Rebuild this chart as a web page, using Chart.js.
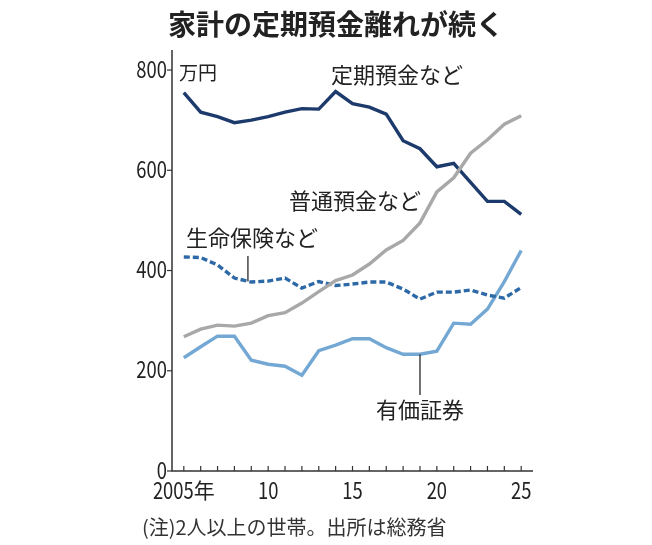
<!DOCTYPE html>
<html>
<head>
<meta charset="utf-8">
<script src="https://cdn.jsdelivr.net/npm/chart.js@4"></script>
<style>
  body { margin: 0; background: #fff; }
  #wrap { width: 652px; height: 545px; }
</style>
</head>
<body>
<div id="wrap"><canvas id="chart" width="652" height="545"></canvas></div>
<script>
// data (万円)
const years = [2005, 2006, 2007, 2008, 2009, 2010, 2011, 2012, 2013, 2014, 2015,
               2016, 2017, 2018, 2019, 2020, 2021, 2022, 2023, 2024, 2025];
const teikiYokin = [755, 716, 707, 695, 700, 707, 716, 723, 722, 757, 733,
                    726, 712, 659, 643, 607, 614, 576, 538, 538, 512];
const futsuYokin = [268, 283, 291, 289, 295, 310, 316, 335, 358, 380, 391,
                    413, 441, 460, 495, 557, 585, 634, 661, 692, 709];
const seimeiHoken = [427, 426, 411, 385, 377, 379, 385, 365, 378, 370, 373,
                     377, 377, 363, 343, 357, 357, 361, 351, 345, 366];
const yukaShoken = [226, 248, 269, 269, 221, 213, 209, 191, 240, 251, 264,
                    264, 246, 233, 233, 239, 295, 293, 323, 378, 440];
const yTicks = [0, 200, 400, 600, 800];
const xLabelYears = [2005, 2010, 2015, 2020, 2025];

const jpFont = '"Noto Sans CJK JP", sans-serif';
const textColor = '#222';

function pts(values) {
    return years.map((y, i) => ({ x: y, y: values[i] }));
}

// condensed digits, like the narrow numerals of the original
function narrowText(ctx, text, x, y, align) {
    const squeeze = 0.8;
    ctx.save();
    ctx.font = '23px ' + jpFont;
    const w = ctx.measureText(text).width * squeeze;
    let left = x;
    if (align === 'right') left = x - w;
    if (align === 'center') left = x - w / 2;
    ctx.translate(left, y);
    ctx.scale(squeeze, 1);
    ctx.textAlign = 'left';
    ctx.textBaseline = 'middle';
    ctx.fillText(text, 0, 0);
    ctx.restore();
    return w;
}

// axes, ticks and labels drawn on top
const decorations = {
    id: 'decorations',
    afterDraw(chart) {
        const ctx = chart.ctx;
        const xs = chart.scales.x;
        const ys = chart.scales.y;
        const area = chart.chartArea;
        ctx.save();

        // axis lines
        ctx.strokeStyle = '#333';
        ctx.lineWidth = 1.5;
        ctx.beginPath();
        ctx.moveTo(area.left, area.top);
        ctx.lineTo(area.left, area.bottom);
        ctx.lineTo(area.right, area.bottom);
        ctx.stroke();

        // y tick marks + labels
        ctx.lineWidth = 1.2;
        ctx.fillStyle = textColor;
        yTicks.forEach(v => {
            const py = ys.getPixelForValue(v);
            ctx.beginPath();
            ctx.moveTo(area.left - 5, py);
            ctx.lineTo(area.left, py);
            ctx.stroke();
            narrowText(ctx, String(v), area.left - 5, py - 1, 'right');
        });
        // x tick marks (every year, pointing up)
        years.forEach(y => {
            const px = xs.getPixelForValue(y);
            ctx.beginPath();
            ctx.moveTo(px, area.bottom);
            ctx.lineTo(px, area.bottom - 5);
            ctx.stroke();
        });
        // x labels
        const labelY = area.bottom + 19;
        xLabelYears.forEach(v => {
            const px = xs.getPixelForValue(v);
            if (v === 2005) {
                ctx.font = '21px ' + jpFont;
                const kw = ctx.measureText('年').width;
                ctx.save();
                ctx.font = '23px ' + jpFont;
                const dw = ctx.measureText('2005').width * 0.8;
                ctx.restore();
                const left = px - (dw + kw) / 2;
                narrowText(ctx, '2005', left, labelY, 'left');
                ctx.font = '21px ' + jpFont;
                ctx.textAlign = 'left';
                ctx.textBaseline = 'middle';
                ctx.fillText('年', left + dw, labelY);
            } else {
                narrowText(ctx, String(v % 100), px, labelY, 'center');
            }
        });

        // title
        ctx.fillStyle = textColor;
        ctx.textAlign = 'center';
        ctx.textBaseline = 'middle';
        ctx.font = 'bold 28px ' + jpFont;
        ctx.fillText('家計の定期預金離れが続く', 336, 24);

        // unit
        ctx.textAlign = 'left';
        ctx.font = '19px ' + jpFont;
        ctx.fillText('万円', area.left + 7, 73);

        // series labels
        ctx.font = '22px ' + jpFont;
        ctx.fillText('定期預金など', 331, 75);
        ctx.fillText('普通預金など', 289, 201);
        ctx.fillText('生命保険など', 186, 238);
        ctx.fillText('有価証券', 376, 410);

        // leader lines
        ctx.strokeStyle = '#444';
        ctx.lineWidth = 1.5;
        let lx = xs.getPixelForValue(2008.8);
        ctx.beginPath();
        ctx.moveTo(lx, 256);
        ctx.lineTo(lx, ys.getPixelForValue(378));
        ctx.stroke();
        lx = xs.getPixelForValue(2019);
        ctx.beginPath();
        ctx.moveTo(lx, ys.getPixelForValue(233));
        ctx.lineTo(lx, 395);
        ctx.stroke();

        // footnote
        ctx.fillStyle = '#333';
        ctx.font = '20px ' + jpFont;
        ctx.fillText('(注)2人以上の世帯。出所は総務省', 142, 527);

        ctx.restore();
    }
};

function lineSet(label, values, color, dash) {
    return {
        label: label,
        data: pts(values),
        borderColor: color,
        backgroundColor: color,
        borderWidth: 3.4,
        borderDash: dash || [],
        pointRadius: 0,
        tension: 0,
        borderJoinStyle: 'miter'
    };
}

new Chart(document.getElementById('chart'), {
    type: 'line',
    data: {
        datasets: [
            lineSet('普通預金など', futsuYokin, '#a8a8a8'),
            lineSet('生命保険など', seimeiHoken, '#2d69a7', [6, 3]),
            lineSet('有価証券', yukaShoken, '#74a8d4'),
            lineSet('定期預金など', teikiYokin, '#1c3a6b')
        ]
    },
    options: {
        responsive: false,
        animation: false,
        layout: { padding: { top: 50, right: 119, left: 0, bottom: 0 } },
        plugins: { legend: { display: false }, tooltip: { enabled: false } },
        scales: {
            x: {
                type: 'linear',
                min: 2004.3,
                max: 2025.7,
                grid: { display: false },
                border: { display: false },
                ticks: { display: false },
                afterFit(scale) { scale.height = 74; }
            },
            y: {
                min: 0,
                max: 840,
                grid: { display: false },
                border: { display: false },
                ticks: { display: false },
                afterFit(scale) { scale.width = 172; }
            }
        }
    },
    plugins: [decorations]
});
</script>
</body>
</html>
